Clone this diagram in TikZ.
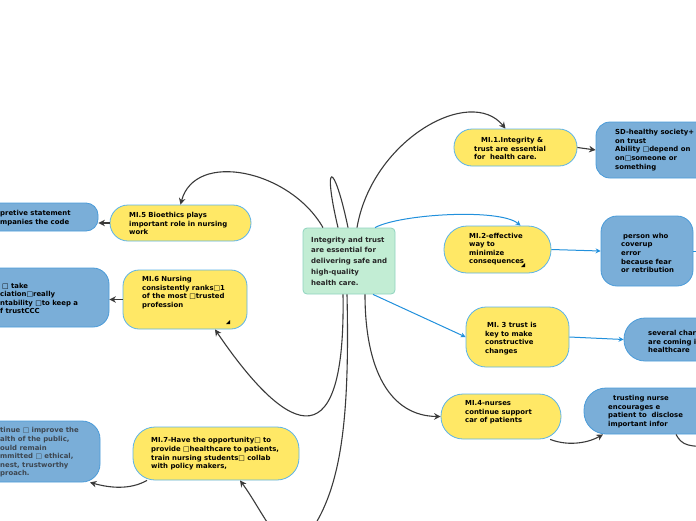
\documentclass[tikz,border=0pt]{standalone}
\usepackage{fontspec}
\setmainfont{DejaVu Sans}
\usetikzlibrary{arrows.meta}
\definecolor{yelc}{HTML}{FFE866}
\definecolor{yelb}{HTML}{5CB3E8}
\definecolor{bluec}{HTML}{7AAED8}
\definecolor{blueb}{HTML}{4A9BD9}
\definecolor{grnc}{HTML}{C2EDD4}
\definecolor{grnb}{HTML}{8FD3C0}
\definecolor{darkc}{HTML}{3A3A3A}
\definecolor{linkb}{HTML}{2190DC}
\definecolor{greytxt}{HTML}{3D4650}
\tikzset{
  shapebox/.style={draw, line width=0.8pt, inner sep=0pt, rectangle},
  yb/.style={shapebox, fill=yelc, draw=yelb},
  bb/.style={shapebox, fill=bluec, draw=blueb},
  gb/.style={shapebox, fill=grnc, draw=grnb, rounded corners=4pt},
  txt/.style={font=\fontsize{6.9}{8.6}\selectfont\bfseries, align=left, inner sep=0pt, anchor=west, text=black},
  ctxt/.style={font=\fontsize{7}{10.8}\selectfont\bfseries, align=left, inner sep=0pt, anchor=west, text=black!85},
  dlink/.style={draw=darkc, line width=1.1pt, -{Stealth[length=6.5pt,width=6.5pt]}},
  blink/.style={draw=linkb, line width=1pt, -{Stealth[length=5pt,width=5pt]}},
  plainlink/.style={draw=darkc, line width=1.1pt},
  resize/.style={fill=black}
}
\begin{document}
\begin{tikzpicture}[x=1pt,y=-1pt]
\useasboundingbox (0,0) rectangle (696,520);
\clip (0,0) rectangle (696,520);

\coordinate (low) at (300,545);
\coordinate (trend) at (712,446);
\coordinate (peend) at (702,251);

% nodes
\node[gb, minimum width=92pt, minimum height=66pt] (c) at (349,261) {};
\node[ctxt] (ct) at (311,261) {Integrity and trust\\are essential for\\delivering safe and\\high-quality\\health care.};

\node[yb, minimum width=123pt, minimum height=37pt, rounded corners=18pt] (m1) at (515.5,147.5) {};
\node[txt] (m1t) at (474,148.5) {\hspace*{7pt}MI.1.Integrity \&\\trust are essential\\for\ \ health care.};

\node[bb, minimum width=124pt, minimum height=56pt, rounded corners=14pt] (sd) at (658,150) {};
\node[txt] (sdt) at (615,150) {SD-healthy society+\\on trust\\Ability □depend on\\on□someone or\\something};

\node[yb, minimum width=107pt, minimum height=47pt, rounded corners=23pt] (m2) at (497.5,249.5) {};
\node[txt] (m2t) at (469,249) {MI.2-effective\\way to\\minimize\\consequences};
\fill[resize] (525,263) -- (525,267) -- (521,267) -- cycle;

\node[bb, minimum width=92pt, minimum height=70pt, rounded corners=16pt] (pe) at (647,251) {};
\node[txt] (pet) at (621,253) {\hspace*{2pt}person who\\coverup\\error\\because fear\\or retribution};

\node[yb, minimum width=103pt, minimum height=60pt, rounded corners=20pt] (m3) at (517.5,337) {};
\node[txt] (m3t) at (485,338.5) {\hspace*{2pt}MI. 3 trust is\\key to make\\constructive\\changes};

\node[bb, minimum width=96pt, minimum height=43pt, rounded corners=21pt] (sv) at (672,339.5) {};
\node[txt] (svt) at (648,341.5) {several char\\are coming i\\healthcare};

\node[yb, minimum width=120pt, minimum height=45pt, rounded corners=22pt] (m4) at (501,416.5) {};
\node[txt] (m4t) at (465,412.5) {MI.4-nurses\\continue support\\car of patients};

\node[bb, minimum width=136pt, minimum height=46pt, rounded corners=22pt] (tr) at (652,411) {};
\node[txt] (trt) at (608,411.5) {\hspace*{5pt}trusting nurse\\encourages e\\patient to\ \ disclose\\important infor};

\node[yb, minimum width=141pt, minimum height=36pt, rounded corners=18pt] (m5) at (180.5,223) {};
\node[txt] (m5t) at (129,223.5) {MI.5 Bioethics plays\\important role in nursing\\work};

\node[bb, minimum width=138pt, minimum height=28pt, rounded corners=12pt] (l1) at (29,217) {};
\node[txt] (l1t) at (0,218) {pretive statement\\mpanies the code};

\node[yb, minimum width=124pt, minimum height=59pt, rounded corners=16pt] (m6) at (185,299.5) {};
\node[txt] (m6t) at (142,292.5) {MI.6 Nursing\\consistently ranks□1\\of the most □trusted\\profession};
\fill[resize] (230,320) -- (230,324) -- (226,324) -- cycle;

\node[bb, minimum width=149pt, minimum height=59pt, rounded corners=16pt] (l2) at (34.5,297.5) {};
\node[txt] (l2t) at (0,298.5) {\hspace*{2pt}□ take\\ciation□really\\ntability □to keep a\\f trustCCC};

\node[yb, minimum width=166pt, minimum height=53pt, rounded corners=22pt] (m7) at (216,453.5) {};
\node[txt] (m7t) at (151,454) {MI.7-Have the opportunity□ to\\provide □healthcare to patients,\\train nursing students□ collab\\with policy makers,};

\node[bb, minimum width=140pt, minimum height=61pt, rounded corners=18pt] (l3) at (30,451.5) {};
\node[txt, text=greytxt] (l3t) at (0,452.5) {tinue □ improve the\\alth of the public,\\ould remain\\mmitted □ ethical,\\nest, trustworthy\\proach.};

% connectors
\draw[dlink] ([xshift=8pt]c.north) .. controls (372,140) and (470,85) .. ([xshift=-10pt]m1.north);
\draw[dlink] ([xshift=-26pt]c.north) .. controls (290,170) and (195,150) .. (m5.north);
\draw[blink] ([xshift=26pt]c.north) .. controls (400,214) and (500,208) .. ([xshift=23pt]m2.north);
\draw[blink] ([xshift=24pt]c.south) -- (m3.west);
\draw[dlink] ([xshift=16pt]c.south) .. controls (365,370) and (390,416) .. (m4.west);
\draw[dlink] ([xshift=-6pt]c.south) .. controls (346,475) and (280,425) .. ([xshift=30pt]m6.south);
\draw[plainlink] ([xshift=-11pt]c.north) .. controls (322,160) and (334,160) .. ([xshift=-1pt]c.north);
\draw[plainlink] ([xshift=-2pt]c.south) .. controls (350,430) and (340,500) .. (low);
\draw[dlink] (low) .. controls (280,555) and (262,510) .. ([xshift=24pt]m7.south);

\draw[dlink] (m1.east) -- (sd.west);
\draw[blink] (m2.east) -- (pe.west);
\draw[blink] (m3.east) -- (sv.west);
\draw[blink] (pe.east) -- (peend);
\draw[dlink] (m5.west) -- (m5.west -| l1.east);
\draw[dlink] (m6.west) -- (m6.west -| l2.east);
\draw[dlink] (m4.-25) .. controls (570,447) and (590,442) .. ([xshift=-49pt]tr.south);
\draw[plainlink] ([xshift=24pt]tr.south) .. controls (682,446) and (690,447) .. (trend);
\draw[dlink] ([xshift=-69pt]m7.south) .. controls (130,490) and (110,488) .. ([xshift=60pt]l3.south);
\end{tikzpicture}
\end{document}
